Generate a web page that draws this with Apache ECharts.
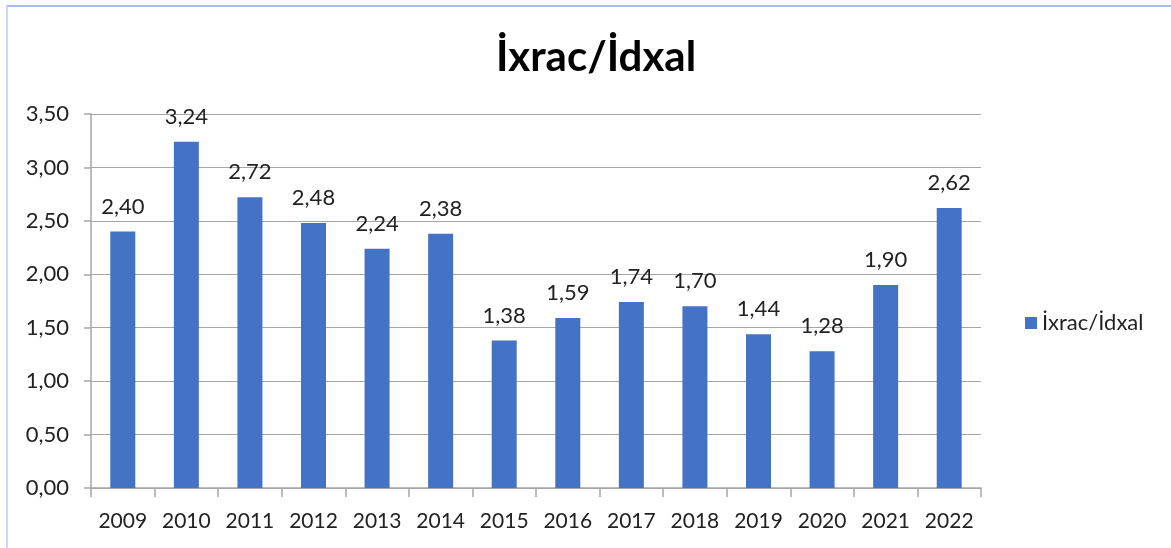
<!DOCTYPE html>
<html><head><meta charset="utf-8">
<script src="https://cdn.jsdelivr.net/npm/echarts@6/dist/echarts.min.js"></script>
<style>
html,body{margin:0;padding:0;background:#fff;}
#frame{position:absolute;left:6px;top:5px;width:1170px;height:550px;border-top:2px solid #a8bdf5;border-left:2px solid #cdd9fa;box-sizing:border-box;}
#chart{position:absolute;left:0;top:0;width:1171px;height:548px;}
</style></head>
<body>
<div id="frame"></div>
<div id="chart"></div>
<script>
const title = 'İxrac/İdxal';
const seriesName = 'İxrac/İdxal';
const years = ['2009','2010','2011','2012','2013','2014','2015','2016','2017','2018','2019','2020','2021','2022'];
const ratio = [2.40, 3.24, 2.72, 2.48, 2.24, 2.38, 1.38, 1.59, 1.74, 1.70, 1.44, 1.28, 1.90, 2.62];

const fmt = v => Number(v).toFixed(2).replace('.', ',');
const FONT = 'Lato';
const chart = echarts.init(document.getElementById('chart'), null, {renderer:'canvas'});
chart.setOption({
  backgroundColor: 'transparent',
  animation: false,
  title: {
    text: title, left: 591, top: 31, textAlign: 'center',
    textStyle: {fontFamily: FONT, fontWeight: 'bold', fontSize: 42, color: '#000'}
  },
  legend: {
    data: [seriesName], orient: 'vertical', left: 1020, top: 307,
    icon: 'rect', itemWidth: 12, itemHeight: 12, itemGap: 8,
    textStyle: {fontFamily: FONT, fontSize: 22, color: '#222'}
  },
  grid: {left: 91, right: 190, top: 114, bottom: 60, containLabel: false},
  xAxis: {
    type: 'category', data: years,
    axisLine: {show: true, lineStyle: {color: '#a6a6a6', width: 1.5}},
    axisTick: {show: true, alignWithLabel: false, interval: 0, length: 9, lineStyle: {color: '#a6a6a6', width: 1.5}},
    axisLabel: {interval: 0, hideOverlap: false, fontFamily: FONT, fontSize: 21, color: '#222', margin: 23}
  },
  yAxis: {
    type: 'value', min: 0, max: 3.5, interval: 0.5,
    axisLine: {show: true, lineStyle: {color: '#a6a6a6', width: 1.5}},
    axisTick: {show: true, length: 7, lineStyle: {color: '#a6a6a6', width: 1.5}},
    splitLine: {show: true, lineStyle: {color: '#a6a6a6', width: 1.2}},
    axisLabel: {fontFamily: FONT, fontSize: 22, color: '#222', margin: 22, formatter: fmt}
  },
  series: [{
    name: seriesName, type: 'bar', data: ratio,
    barWidth: 25,
    itemStyle: {color: '#4472C4'},
    label: {show: true, position: 'top', distance: 14, formatter: p => fmt(p.value),
      fontFamily: FONT, fontSize: 22, color: '#222'}
  }]
});
</script>
</body></html>
